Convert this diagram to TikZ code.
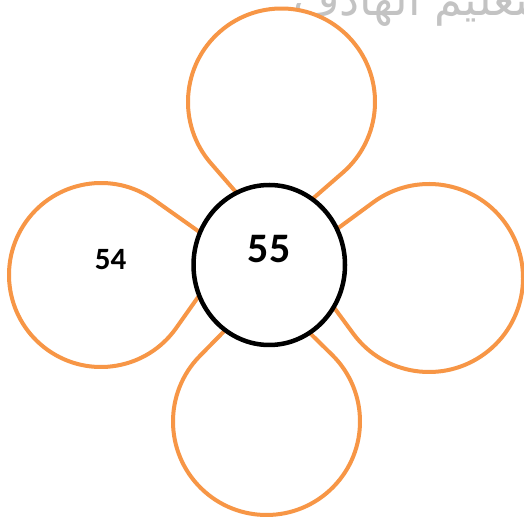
\documentclass[tikz,border=0pt]{standalone}
\usepackage{fontspec}
\setmainfont{Carlito}
\newfontfamily\arabicfont[Script=Arabic]{DejaVu Sans}
\TeXXeTstate=1
\usetikzlibrary{shapes.geometric,calc}
\definecolor{petalorange}{RGB}{247,150,70}
\definecolor{wmgray}{RGB}{195,195,195}
\tikzset{
  petalline/.style={draw=petalorange,line width=4pt,line join=round,fill=white},
  hub/.style={ellipse,draw=black,line width=4.5pt,fill=white,inner sep=0pt,
    minimum width=151.5pt,minimum height=160pt},
  bignum/.style={font=\fontsize{42}{42}\selectfont\bfseries,inner sep=0pt},
  smallnum/.style={font=\fontsize{31}{31}\selectfont\bfseries,inner sep=0pt},
  watermark/.style={font=\arabicfont\fontsize{45}{45}\selectfont,text=wmgray,inner sep=0pt}
}
% petal: name, cx, cy, r, direction of tip
\newcommand\drawpetal[5]{%
  \coordinate (#1) at (#2,#3);
  \draw[petalline] ($(#1)+(#5:{#4*1.41421})$) -- ($(#1)+(#5+45:#4)$)
    arc[start angle=#5+45, end angle=#5+315, radius=#4] -- cycle;
}
\begin{document}
\begin{tikzpicture}[x=1pt,y=1pt]
\useasboundingbox (0,0) rectangle (524,519);
\fill[white] (0,0) rectangle (524,519);
\node[watermark,anchor=base west] (wm) at (293,503) {\beginR التعليم الهادف\endR};
\drawpetal{ptop}{281.5}{417}{93.5}{266}
\drawpetal{pleft}{101}{244}{92}{9.7}
\drawpetal{pright}{429}{241}{94}{171.35}
\drawpetal{pbottom}{266.5}{97.5}{93.5}{90.5}
\node[hub] (hubnode) at (269.25,254) {};
\node[bignum] (t55) at (269.2,270.3) {55};
\node[smallnum] (t54) at (110.5,259) {54};
\end{tikzpicture}
\end{document}
